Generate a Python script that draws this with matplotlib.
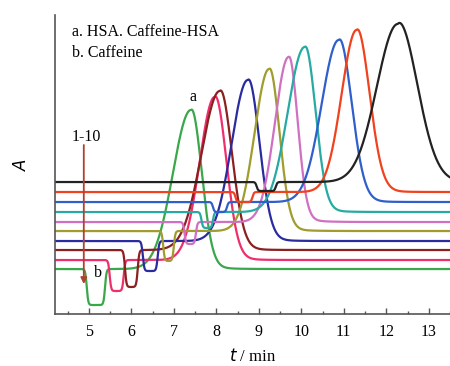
import numpy as np
import matplotlib
matplotlib.use('Agg')
import matplotlib.pyplot as plt

plt.rcParams['font.family'] = 'Liberation Serif'

# one entry per trace, bottom (1) to top (10)
cores = ['#3aa84a', '#ee2f6c', '#8b2020', '#2b2ba0', '#a09c2e',
         '#d070c2', '#27aaa2', '#2f5fca', '#f0421e', '#222222']
linha_base = [45, 54, 64, 73, 83, 92, 102, 112, 122, 132]
pico_t = [7.40, 7.96, 8.08, 8.74, 9.24, 9.70, 10.08, 10.88, 11.30, 12.27]
pico_h = [159, 163, 159, 161, 162, 165, 165, 162, 162, 158]
sigma_esq = [0.42, 0.35, 0.43, 0.38, 0.34, 0.32, 0.40, 0.40, 0.35, 0.49]
sigma_dir = [0.25, 0.27, 0.28, 0.27, 0.24, 0.21, 0.25, 0.30, 0.30, 0.46]
vale_ini = [4.95, 5.49, 5.85, 6.27, 6.75, 7.25, 7.65, 7.92, 8.45, 8.95]
vale_fim = [5.38, 5.82, 6.15, 6.62, 7.00, 7.52, 7.92, 8.25, 8.85, 9.40]
vale_prof = [36, 31, 37, 30, 30, 22, 16, 10, 10, 9]

ticks_x = [5, 6, 7, 8, 9, 10, 11, 12, 13]

t = np.linspace(4.2, 13.5, 3000)


def traco(i):
    # vale (pico b) como caixa suave
    w = 0.035
    caixa = 0.5 * (np.tanh((t - vale_ini[i]) / w) - np.tanh((t - vale_fim[i]) / w))
    # pico a como bi-gaussiana
    c = pico_t[i]
    s = np.where(t < c, sigma_esq[i], sigma_dir[i])
    pico = pico_h[i] * np.exp(-0.5 * ((t - c) / s) ** 2)
    # cauda leve depois do pico
    d = np.clip(t - c, 0, None)
    cauda = 8 * (1 - np.exp(-d / 0.15)) * np.exp(-d / 0.35)
    return linha_base[i] - vale_prof[i] * caixa + pico + cauda


fig = plt.figure(figsize=(4.5, 3.66), dpi=100)
ax = fig.add_axes([0.122, 0.142, 0.878, 0.817])

for i in range(len(cores)):
    ax.plot(t, traco(i), color=cores[i], lw=1.6, solid_capstyle='round')

ax.set_xlim(4.2, 13.49)
ax.set_ylim(0, 299)

for lado in ['top', 'right']:
    ax.spines[lado].set_visible(False)
for lado in ['left', 'bottom']:
    ax.spines[lado].set_color('#555555')
    ax.spines[lado].set_linewidth(1.2)

ax.set_xticks(ticks_x)
ax.set_xticks(np.arange(4.5, 13.6, 1.0), minor=True)
ax.tick_params(axis='x', which='major', direction='in', length=4, width=1,
               color='#555555', labelsize=11.5, pad=7)
ax.tick_params(axis='x', which='minor', direction='in', length=2.5, width=1,
               color='#555555')
ax.set_yticks([])

ax.set_xlabel('$t$ / min', fontsize=12, labelpad=6)
ax.set_ylabel('$A$', fontsize=12, labelpad=18)

ax.text(0.043, 0.943, 'a. HSA. Caffeine-HSA', transform=ax.transAxes,
        fontsize=11.5, va='center')
ax.text(0.043, 0.873, 'b. Caffeine', transform=ax.transAxes,
        fontsize=11.5, va='center')
ax.text(7.45, 217, 'a', fontsize=11.5, ha='center', va='center')
ax.text(5.22, 41, 'b', fontsize=11.5, ha='center', va='center')
ax.text(4.94, 177, '1-10', fontsize=11.5, ha='center', va='center')

ax.annotate('', xy=(4.88, 30), xytext=(4.88, 169),
            arrowprops=dict(arrowstyle='-|>', color='#b04030', lw=1.3,
                            mutation_scale=9, shrinkA=0, shrinkB=0))

fig.savefig('out.png', dpi=100)
